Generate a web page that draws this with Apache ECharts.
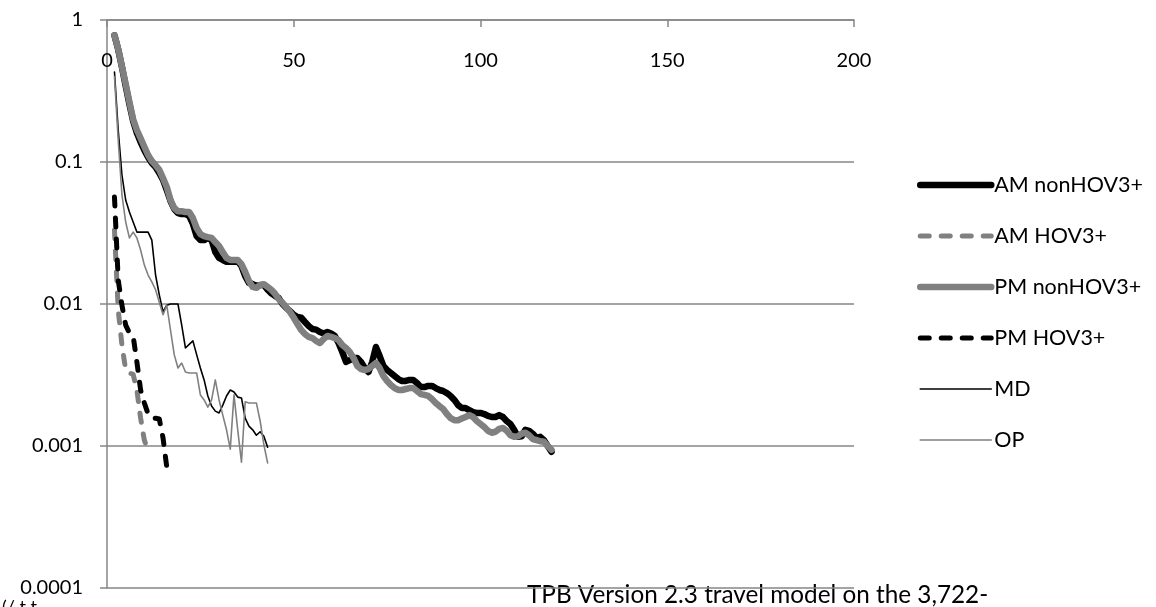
<!DOCTYPE html>
<html>
<head>
<meta charset="utf-8">
<script src="https://cdn.jsdelivr.net/npm/echarts@6/dist/echarts.min.js"></script>
<style>
html,body{margin:0;padding:0;background:#fff;}
#chart{width:1156px;height:607px;}
</style>
</head>
<body>
<div id="chart"></div>
<script>
// ---- Data ----
const seriesNames = ['AM nonHOV3+', 'AM HOV3+', 'PM nonHOV3+', 'PM HOV3+', 'MD', 'OP'];
const xTickLabels = [0, 50, 100, 150, 200];
const yTickLabels = [1, 0.1, 0.01, 0.001, 0.0001];

// minutes 2..119
const xLong = [2,3,4,5,6,7,8,9,10,11,12,13,14,15,16,17,18,19,20,21,22,23,24,25,26,27,28,29,30,31,32,33,34,35,36,37,38,39,40,41,42,43,44,45,46,47,48,49,50,51,52,53,54,55,56,57,58,59,60,61,62,63,64,65,66,67,68,69,70,71,72,73,74,75,76,77,78,79,80,81,82,83,84,85,86,87,88,89,90,91,92,93,94,95,96,97,98,99,100,101,102,103,104,105,106,107,108,109,110,111,112,113,114,115,116,117,118,119];

const amNonHov = [0.78,0.62,0.467,0.343,0.256,0.194,0.16,0.138,0.121,0.108,0.0984,0.0922,0.0837,0.0747,0.0635,0.0531,0.0467,0.0437,0.043,0.043,0.0417,0.0366,0.0301,0.0282,0.0282,0.0292,0.0282,0.0232,0.0211,0.0204,0.0198,0.0198,0.0198,0.02,0.0185,0.0157,0.0141,0.0138,0.0134,0.0136,0.0136,0.0126,0.0119,0.0114,0.011,0.01,0.0094,0.0089,0.0084,0.0081,0.008,0.00747,0.007,0.00667,0.0066,0.00635,0.0062,0.00635,0.0062,0.00595,0.00531,0.00459,0.00391,0.00403,0.00417,0.00417,0.00391,0.00354,0.00332,0.0039,0.00498,0.0043,0.00366,0.00343,0.00327,0.00311,0.00296,0.00287,0.00287,0.00292,0.00292,0.00278,0.0026,0.0026,0.00265,0.00265,0.00256,0.00248,0.00244,0.00236,0.00225,0.00211,0.00194,0.00185,0.00185,0.00179,0.00173,0.00171,0.00171,0.00168,0.00163,0.0016,0.0016,0.00165,0.0016,0.0015,0.00143,0.0013,0.00116,0.00117,0.0013,0.00128,0.00122,0.00114,0.00116,0.0011,0.001,0.00091];

const pmNonHov = [0.78,0.625,0.47,0.355,0.265,0.2,0.168,0.147,0.128,0.112,0.1016,0.095,0.088,0.077,0.0667,0.054,0.0474,0.045,0.045,0.0445,0.0445,0.0403,0.0343,0.0311,0.0301,0.0296,0.0292,0.0273,0.0256,0.0232,0.0211,0.0204,0.0204,0.0204,0.0191,0.0168,0.0145,0.0132,0.013,0.0136,0.0138,0.0132,0.0126,0.0118,0.0108,0.0102,0.0095,0.0088,0.008,0.00723,0.00656,0.00615,0.00586,0.00576,0.00549,0.00531,0.00567,0.00595,0.00586,0.00576,0.00557,0.00514,0.0049,0.00459,0.00417,0.00366,0.00348,0.00343,0.00348,0.00366,0.00384,0.00354,0.00311,0.00287,0.00269,0.00256,0.00248,0.00248,0.00252,0.00256,0.00256,0.00244,0.00232,0.00229,0.00225,0.00214,0.00201,0.00191,0.00182,0.00168,0.00157,0.00152,0.00152,0.00156,0.0016,0.00165,0.0016,0.0015,0.00143,0.00136,0.00128,0.00124,0.00126,0.00132,0.00134,0.00128,0.00119,0.00116,0.00117,0.00122,0.00124,0.00119,0.00112,0.0011,0.00108,0.00107,0.001,0.00094];

const xAmHov = [2,3,4,5,6,7,8,9,10,11];
const amHov = [0.0332,0.0091,0.00514,0.00343,0.00327,0.0032,0.00248,0.00157,0.0011,0.00093];

const xPmHov = [2,3,4,5,6,7,8,9,10,11,12,13,14,15,16];
const pmHov = [0.0567,0.0148,0.0098,0.0071,0.00625,0.00595,0.00391,0.00248,0.00201,0.00168,0.00157,0.00157,0.00155,0.00114,0.00071];

const xShort = [2,3,4,5,6,7,8,9,10,11,12,13,14,15,16,17,18,19,20,21,22,23,24,25,26,27,28,29,30,31,32,33,34,35,36,37,38,39,40,41,42,43];
const md = [0.43,0.168,0.081,0.054,0.0445,0.0378,0.0321,0.0321,0.0321,0.0321,0.0282,0.016,0.0116,0.0088,0.0098,0.01,0.01,0.01,0.0071,0.0049,0.0052,0.0055,0.0044,0.00354,0.00292,0.00225,0.00191,0.00176,0.00171,0.00194,0.00225,0.00248,0.0024,0.00221,0.00218,0.00157,0.00138,0.0013,0.00119,0.00126,0.00117,0.00098];
const op = [0.40,0.143,0.0586,0.0378,0.0292,0.0321,0.0292,0.024,0.0188,0.016,0.0143,0.0126,0.0103,0.0084,0.0098,0.00656,0.0044,0.00354,0.00384,0.00332,0.00327,0.00327,0.00327,0.00229,0.00211,0.00188,0.00211,0.00292,0.00211,0.00165,0.0013,0.00095,0.00229,0.0013,0.00077,0.00205,0.00201,0.00201,0.00201,0.0015,0.00102,0.00076];

function pairs(xs, ys){ return xs.map((x,i)=>[x, ys[i]]); }

const GRAY = '#808080';
const AXIS = '#868686';
const FONT = 'Lato, "Open Sans", sans-serif';

const styles = [
  {color:'#000', width:6.5, type:'solid'},
  {color:GRAY, width:5, type:[9,12]},
  {color:GRAY, width:6.5, type:'solid'},
  {color:'#000', width:5, type:[9,12]},
  {color:'#000', width:1.6, type:'solid'},
  {color:GRAY, width:1.6, type:'solid'}
];
const seriesData = [
  pairs(xLong, amNonHov),
  pairs(xAmHov, amHov),
  pairs(xLong, pmNonHov),
  pairs(xPmHov, pmHov),
  pairs(xShort, md),
  pairs(xShort, op)
];

const chart = echarts.init(document.getElementById('chart'), null, {renderer:'canvas'});

chart.setOption({
  animation:false,
  backgroundColor:'#fff',
  grid:{left:107, right:302, top:20, bottom:19, containLabel:false},
  xAxis:{
    type:'value', position:'top', min:0, max:200, interval:50,
    axisLine:{show:true, onZero:false, lineStyle:{color:AXIS, width:1.5}},
    axisTick:{show:true, inside:true, length:7, lineStyle:{color:AXIS, width:1.5}},
    axisLabel:{show:true, inside:true, margin:31, color:'#000', fontSize:20, fontFamily:FONT,
      formatter:(v)=> xTickLabels.includes(v) ? String(v) : ''},
    splitLine:{show:false}
  },
  yAxis:{
    type:'log', logBase:10, min:0.0001, max:1,
    axisLine:{show:true, lineStyle:{color:AXIS, width:1.5}},
    axisTick:{show:true, length:7, lineStyle:{color:AXIS, width:1.5}},
    axisLabel:{color:'#000', fontSize:20, fontFamily:FONT, margin:24,
      formatter:(v)=>{ const f = yTickLabels.find(t=>Math.abs(Math.log10(t)-Math.log10(v))<1e-6); return f!==undefined ? String(f) : ''; }},
    splitLine:{show:true, lineStyle:{color:AXIS, width:1.5}},
    minorTick:{show:false}
  },
  legend:{
    orient:'vertical', left:912, top:169, itemWidth:71, itemHeight:14, itemGap:29,
    textStyle:{color:'#000', fontSize:21.5, fontFamily:FONT, padding:[0,0,0,-2]},
    data: seriesNames.map((n,i)=>({
      name:n,
      itemStyle:{opacity:0},
      lineStyle:{color:styles[i].color, width:styles[i].width, type:styles[i].type, cap:'round'}
    }))
  },
  series: seriesNames.map((n,i)=>({
    name:n, type:'line', data:seriesData[i], symbol:'none', showSymbol:false, z:2+i,
    lineStyle:{color:styles[i].color, width:styles[i].width, type:styles[i].type, cap:'round', join:'round'},
    itemStyle:{color:styles[i].color}
  })),
  graphic:[
    {type:'text', left:527, top:583, style:{text:'TPB Version 2.3 travel model on the 3,722-', font:'24.3px '+FONT, fill:'#000'}, silent:true},
    {type:'text', left:2, top:598, style:{text:'(/ t t', font:'18px '+FONT, fill:'#000'}, silent:true}
  ]
});
</script>
</body>
</html>
